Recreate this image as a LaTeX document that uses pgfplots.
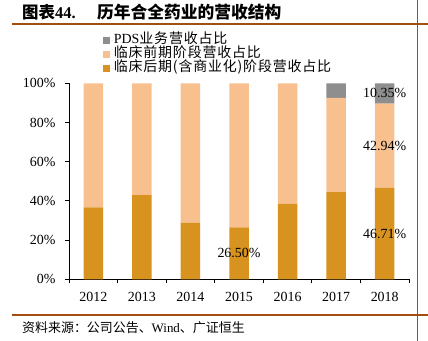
\documentclass[border=0pt]{standalone}
\usepackage{pgfplots}
\pgfplotsset{compat=1.18}
\usepackage{fontspec}
\setmainfont{Liberation Serif}
\newfontfamily\cjk{Noto Sans CJK SC}
\newfontfamily\cjkl[LetterSpace=6]{Noto Sans CJK SC}
\definecolor{darkor}{HTML}{D8921F}
\definecolor{lightor}{HTML}{F9C08F}
\definecolor{pgray}{HTML}{8E8E8E}
\definecolor{brownline}{HTML}{A34D0E}
\begin{document}
\begin{tikzpicture}[x=1bp,y=1bp]
\path[use as bounding box] (0,0) rectangle (428,341);
\draw[brownline, line width=1.4bp] (12,317) -- (428,317);
\draw[brownline, line width=1.4bp] (12,26) -- (428,26);
\draw[brownline, line width=1.4bp] (417.5,0) -- (417.5,341);
\node[anchor=west, inner sep=0pt, font=\bfseries\fontsize{16.5}{16.5}\selectfont] at (22,328.5) {{\cjk 图表}44.};
\node[anchor=west, inner sep=0pt, font=\bfseries\fontsize{16.8}{16.8}\selectfont] at (97,328.5) {\cjk 历年合全药业的营收结构};
\node[anchor=west, inner sep=0pt, font=\fontsize{13}{13}\selectfont] at (22,13) {\cjk 资料来源：公司公告、{\rmfamily Wind}、广证恒生};
\begin{axis}[
  at={(69bp,61.7bp)}, anchor=south west, scale only axis,
  width=340bp, height=196bp,
  ybar stacked, bar width=19.5bp,
  xmin=-0.5, xmax=6.5, ymin=0, ymax=100,
  axis lines=left, axis line style={-, black, line width=0.8bp},
  ytick={0,20,...,100}, yticklabel={\pgfmathprintnumber{\tick}\%},
  yticklabel style={xshift=-6bp},
  tick align=outside, major tick length=4bp,
  tick style={black, line width=0.8bp},
  xtick={-0.5,0.5,...,6.5}, xticklabels={},
  extra x ticks={0,1,2,3,4,5,6},
  extra x tick labels={2012,2013,2014,2015,2016,2017,2018},
  extra x tick style={major tick length=0pt, xticklabel style={yshift=-9bp}},
  ticklabel style={font=\fontsize{14}{14}\selectfont},
  /pgf/number format/assume math mode=true,
  legend style={at={(0.099,1.257)}, anchor=north west, draw=none, fill=none,
    font=\fontsize{14}{14}\selectfont, row sep=0pt, inner sep=0pt,
    nodes={inner sep=0pt, text height=10.5bp, text depth=3.5bp},
    /tikz/every even column/.append style={column sep=4bp}},
  legend cell align=left,
  legend image code/.code={\fill[#1] (0bp,-3.5bp) rectangle (7bp,3.5bp); \path (0bp,0bp) -- (11bp,0bp);},
  reverse legend,
  clip=false,
]
\addplot[fill=darkor, draw=none] coordinates {(0,36.7) (1,43.0) (2,28.9) (3,26.5) (4,38.6) (5,44.5) (6,46.71)};
\addlegendentry{\cjkl 临床后期({\rmfamily}含商业化{\rmfamily})阶段营收占比}
\addplot[fill=lightor, draw=none] coordinates {(0,63.3) (1,57.0) (2,71.1) (3,73.5) (4,61.4) (5,48.0) (6,42.94)};
\addlegendentry{\cjkl 临床前期阶段营收占比}
\addplot[fill=pgray, draw=none] coordinates {(0,0) (1,0) (2,0) (3,0) (4,0) (5,7.5) (6,10.35)};
\addlegendentry{PDS{\cjkl 业务营收占比}}
\coordinate (l1) at (axis cs:3,13.25);
\coordinate (l2) at (axis cs:6,23.35);
\coordinate (l3) at (axis cs:6,68.18);
\coordinate (l4) at (axis cs:6,94.82);
\end{axis}
\foreach \p/\t in {l1/26.50, l2/46.71, l3/42.94, l4/10.35}
  \node[font=\fontsize{14}{14}\selectfont, inner sep=0pt] at (\p) {\t\%};
\end{tikzpicture}
\end{document}
